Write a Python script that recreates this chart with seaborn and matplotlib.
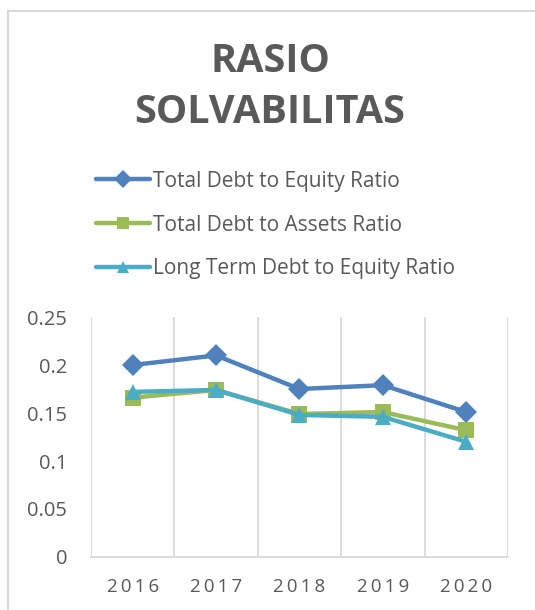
import pandas as pd
import matplotlib
matplotlib.use("Agg")
import matplotlib.pyplot as plt
from matplotlib.patches import Rectangle
from matplotlib.ticker import FixedLocator
import seaborn as sns

years = ["2016", "2017", "2018", "2019", "2020"]
debt_to_equity = [0.200, 0.210, 0.175, 0.179, 0.151]
debt_to_assets = [0.166, 0.174, 0.149, 0.151, 0.132]
lt_debt_to_equity = [0.172, 0.174, 0.148, 0.146, 0.120]
series_names = ["Total Debt to Equity Ratio", "Total Debt to Assets Ratio",
                "Long Term Debt to Equity Ratio"]

rows = []
for name, vals in zip(series_names, [debt_to_equity, debt_to_assets, lt_debt_to_equity]):
    for y, v in zip(years, vals):
        rows.append({"year": y, "value": v, "series": name})
df = pd.DataFrame(rows)

sns.set_style("white")
plt.rcParams["font.family"] = ["Open Sans", "DejaVu Sans"]

grey = "#595959"
colors = ["#4F81BD", "#9BBB59", "#4BACC6"]

fig = plt.figure(figsize=(5.35, 6.10), dpi=100)
ax = fig.add_axes([0.170, 0.0869, 0.7795, 0.3934])

sns.lineplot(data=df, x="year", y="value", hue="series", style="series",
             palette=colors, markers=["D", "s", "^"], dashes=False,
             linewidth=3.2, markersize=11.5, markeredgewidth=0, ax=ax)

ax.set_xlim(-0.5, 4.5)
ax.set_ylim(0, 0.25)
ax.set_yticks([0, 0.05, 0.1, 0.15, 0.2, 0.25])
ax.set_yticklabels(["0", "0.05", "0.1", "0.15", "0.2", "0.25"])
ax.set_xticks(range(len(years)))
ax.set_xticklabels(["\u2009".join(y) for y in years])
ax.xaxis.set_minor_locator(FixedLocator([i - 0.5 for i in range(len(years) + 1)]))
ax.grid(False)
ax.grid(True, axis="x", which="minor", color="#D9D9D9", linewidth=1.3)
ax.tick_params(axis="both", which="both", length=0, colors=grey)
ax.tick_params(axis="y", pad=17, labelsize=14.5)
ax.tick_params(axis="x", pad=15, labelsize=13.5)
ax.set_xlabel("")
ax.set_ylabel("")
for s in ["top", "right", "left"]:
    ax.spines[s].set_visible(False)
ax.spines["bottom"].set_color("#D9D9D9")
ax.spines["bottom"].set_linewidth(1.3)

handles, labels = ax.get_legend_handles_labels()
for h in handles:
    h.set_linewidth(3.2)
    h.set_markersize(9)
ax.legend(handles, labels, loc="upper left", bbox_to_anchor=(0.145, 0.751),
          bbox_transform=fig.transFigure, frameon=False, fontsize=15,
          handlelength=2.6, handletextpad=0.1, labelspacing=1.1,
          labelcolor=grey)

fig.text(0.505, 0.900, "RASIO", ha="center", va="center",
         fontsize=28.5, fontweight="bold", color=grey)
fig.text(0.505, 0.816, "SOLVABILITAS", ha="center", va="center",
         fontsize=28.5, fontweight="bold", color=grey)

fig.add_artist(Rectangle((8 / 535, -0.1), 1.2, 1.1 - 11 / 610,
                         transform=fig.transFigure, fill=False,
                         edgecolor="#D9D9D9", linewidth=1.5, clip_on=False))

fig.savefig("out.png", dpi=100)
